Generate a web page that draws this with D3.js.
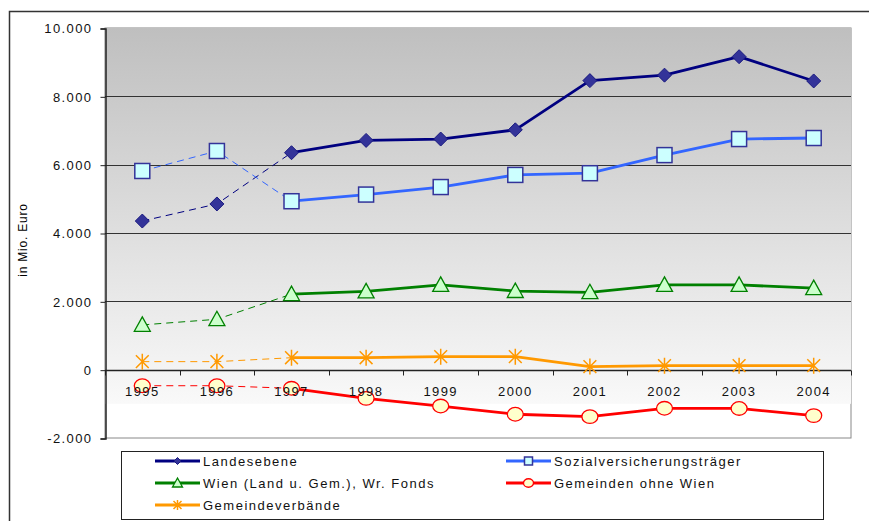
<!DOCTYPE html>
<html>
<head>
<meta charset="utf-8">
<script src="https://cdn.jsdelivr.net/npm/d3@7"></script>
<style>
  body { margin: 0; background: #fff; }
  text { font-family: "Liberation Sans", Arial, sans-serif; }
</style>
</head>
<body>
<div id="chart"></div>
<script>
// data (Mio. Euro)
const years = ["1995", "1996", "1997", "1998", "1999", "2000", "2001", "2002", "2003", "2004"];
const landesebene = [4350, 4850, 6350, 6710, 6750, 7020, 8460, 8620, 9160, 8450];
const sozialversicherung = [5815, 6400, 4930, 5125, 5345, 5700, 5750, 6280, 6750, 6780];
const wien = [1310, 1475, 2210, 2290, 2480, 2300, 2265, 2480, 2480, 2385];
const gemeindeverbaende = [235, 235, 350, 350, 380, 380, 90, 117, 117, 117];
const gemeindenOhneWien = [-470, -470, -545, -840, -1065, -1305, -1375, -1130, -1135, -1345];
const yTicks = [-2000, 0, 2000, 4000, 6000, 8000, 10000];
const dashedUntil = 2; // 1995-1997 drawn dashed

const series = [
    {name: "Landesebene", values: landesebene, line: "#000080", marker: "diamond", fill: "#333399", stroke: "#1a1a80"},
    {name: "Sozialversicherungsträger", values: sozialversicherung, line: "#3366ff", marker: "square", fill: "#ccffff", stroke: "#333399"},
    {name: "Wien (Land u. Gem.), Wr. Fonds", values: wien, line: "#008000", marker: "triangle", fill: "#ccffcc", stroke: "#008000"},
    {name: "Gemeinden ohne Wien", values: gemeindenOhneWien, line: "#ff0000", marker: "circle", fill: "#ffffcc", stroke: "#ff0000"},
    {name: "Gemeindeverbände", values: gemeindeverbaende, line: "#ff9900", marker: "star", fill: "none", stroke: "#ff9900"}
];

const W = 869, H = 521;
const plot = {left: 105, right: 851, top: 28, bottom: 438};

const svg = d3.select("#chart").append("svg")
    .attr("width", W)
    .attr("height", H);

// outer frame
svg.append("rect")
    .attr("x", 9.5).attr("y", 11.5)
    .attr("width", W).attr("height", H)
    .attr("fill", "none")
    .attr("stroke", "#333")
    .attr("stroke-width", 1.5);

const x = d3.scaleBand().domain(years).range([plot.left, plot.right]).paddingInner(0).paddingOuter(0);
const y = d3.scaleLinear().domain([-2000, 10000]).range([plot.bottom, plot.top]);
const cx = d => x(d) + x.bandwidth() / 2;

// plot area background
const defs = svg.append("defs");
const grad = defs.append("linearGradient")
    .attr("id", "bg").attr("x1", 0).attr("y1", 0).attr("x2", 0).attr("y2", 1);
grad.append("stop").attr("offset", "0%").attr("stop-color", "#bfbfbf");
grad.append("stop").attr("offset", "100%").attr("stop-color", "#f9f9f9");

svg.append("rect")
    .attr("x", plot.left).attr("y", plot.top)
    .attr("width", plot.right - plot.left).attr("height", plot.bottom - plot.top)
    .attr("fill", "#fff")
    .attr("stroke", "#888");
svg.append("rect")
    .attr("x", plot.left).attr("y", plot.top)
    .attr("width", plot.right - plot.left).attr("height", y(-1000) - plot.top)
    .attr("fill", "url(#bg)");

// gridlines
svg.append("g")
    .selectAll("line")
    .data(yTicks.filter(d => d > 0 && d < 10000))
    .enter().append("line")
    .attr("x1", plot.left).attr("x2", plot.right)
    .attr("y1", d => Math.round(y(d)) + 0.5).attr("y2", d => Math.round(y(d)) + 0.5)
    .attr("stroke", "#333")
    .attr("stroke-width", 1);

// y axis
const yAxis = d3.axisLeft(y)
    .tickValues(yTicks)
    .tickSize(5)
    .tickPadding(8)
    .tickFormat(d => d3.format(",")(d).replace(/,/g, ".").replace("\u2212", "-"));
const gy = svg.append("g")
    .attr("transform", `translate(${plot.left + 0.5},0.5)`)
    .call(yAxis);
gy.select(".domain").attr("stroke", "#222").attr("stroke-width", 1.5);
gy.selectAll(".tick line").attr("stroke", "#222");
gy.selectAll(".tick text")
    .attr("font-size", 13)
    .attr("letter-spacing", 1.4)
    .attr("fill", "#111");

// y axis title
svg.append("text")
    .attr("transform", "translate(27,240) rotate(-90)")
    .attr("text-anchor", "middle")
    .attr("font-size", 12)
    .attr("letter-spacing", 0.8)
    .text("in Mio. Euro");

// x axis along zero
const gx = svg.append("g").attr("transform", `translate(0,${Math.round(y(0)) + 0.5})`);
gx.append("line")
    .attr("x1", plot.left).attr("x2", plot.right)
    .attr("stroke", "#222").attr("stroke-width", 1.5);
gx.selectAll(".tk")
    .data(years.concat(["end"]))
    .enter().append("line")
    .attr("x1", (d, i) => Math.round(plot.left + i * x.bandwidth()) + 0.5)
    .attr("x2", (d, i) => Math.round(plot.left + i * x.bandwidth()) + 0.5)
    .attr("y1", 0).attr("y2", 5)
    .attr("stroke", "#222");

// lines and markers
const line = d3.line().x(d => cx(d.year)).y(d => y(d.value));

function drawMarker(g, type, size, fill, stroke) {
    const s = size;
    if (type === "diamond") {
        g.append("path")
            .attr("d", `M0,${-s}L${s},0L0,${s}L${-s},0Z`)
            .attr("fill", fill).attr("stroke", stroke).attr("stroke-width", 1);
    } else if (type === "square") {
        g.append("rect")
            .attr("x", -s).attr("y", -s).attr("width", 2 * s).attr("height", 2 * s)
            .attr("fill", fill).attr("stroke", stroke).attr("stroke-width", 1.5);
    } else if (type === "triangle") {
        g.append("path")
            .attr("d", `M0,${-s}L${s},${s * 0.8}L${-s},${s * 0.8}Z`)
            .attr("fill", fill).attr("stroke", stroke).attr("stroke-width", 1.3);
    } else if (type === "circle") {
        g.append("ellipse")
            .attr("rx", s).attr("ry", s * 0.85)
            .attr("fill", fill).attr("stroke", stroke).attr("stroke-width", 1.3);
    } else if (type === "star") {
        const d = s * 0.8;
        g.append("path")
            .attr("d", `M${-d},${-d}L${d},${d}M${-d},${d}L${d},${-d}M0,${-s}L0,${s}`)
            .attr("fill", "none").attr("stroke", stroke).attr("stroke-width", 1.5);
    }
}

const markerSize = {diamond: 7, square: 7.5, triangle: 8, circle: 8, star: 8};

series.forEach(s => {
    const pts = s.values.map((v, i) => ({year: years[i], value: v}));
    const g = svg.append("g").attr("class", "series");

    g.append("path")
        .datum(pts.slice(0, dashedUntil + 1))
        .attr("d", line)
        .attr("fill", "none")
        .attr("stroke", s.line)
        .attr("stroke-width", 1)
        .attr("stroke-dasharray", "7,5");

    g.append("path")
        .datum(pts.slice(dashedUntil))
        .attr("d", line)
        .attr("fill", "none")
        .attr("stroke", s.line)
        .attr("stroke-width", 2.8)
        .attr("stroke-linejoin", "round");

    pts.forEach(p => {
        const m = g.append("g").attr("transform", `translate(${cx(p.year)},${y(p.value)})`);
        drawMarker(m, s.marker, markerSize[s.marker], s.fill, s.stroke);
    });
});

// x tick labels (drawn on top)
svg.append("g")
    .selectAll("text")
    .data(years)
    .enter().append("text")
    .attr("x", d => cx(d))
    .attr("y", y(0) + 26)
    .attr("text-anchor", "middle")
    .attr("font-size", 13)
    .attr("letter-spacing", 1.4)
    .attr("fill", "#111")
    .text(d => d);

// legend
const legend = svg.append("g").attr("class", "legend");
legend.append("rect")
    .attr("x", 121.5).attr("y", 451.5)
    .attr("width", 702).attr("height", 68)
    .attr("fill", "#fff")
    .attr("stroke", "#222");

const legendOrder = ["Landesebene", "Sozialversicherungsträger", "Wien (Land u. Gem.), Wr. Fonds", "Gemeinden ohne Wien", "Gemeindeverbände"];
const legendSize = {diamond: 3.5, square: 4, triangle: 5, circle: 5, star: 5};
legendOrder.forEach((name, i) => {
    const s = series.find(d => d.name === name);
    const col = i % 2, row = Math.floor(i / 2);
    const lx = col === 0 ? 155 : 506;
    const ly = 461 + row * 22;
    const item = legend.append("g").attr("transform", `translate(${lx},${ly})`);
    item.append("line")
        .attr("x1", 0).attr("x2", 45)
        .attr("stroke", s.line).attr("stroke-width", 2.8);
    const m = item.append("g").attr("transform", "translate(22.5,0)");
    drawMarker(m, s.marker, legendSize[s.marker], s.fill, s.stroke);
    item.append("text")
        .attr("x", 48).attr("y", 5)
        .attr("font-size", 13)
        .attr("letter-spacing", 1.5)
        .attr("fill", "#111")
        .text(name);
});
</script>
</body>
</html>
